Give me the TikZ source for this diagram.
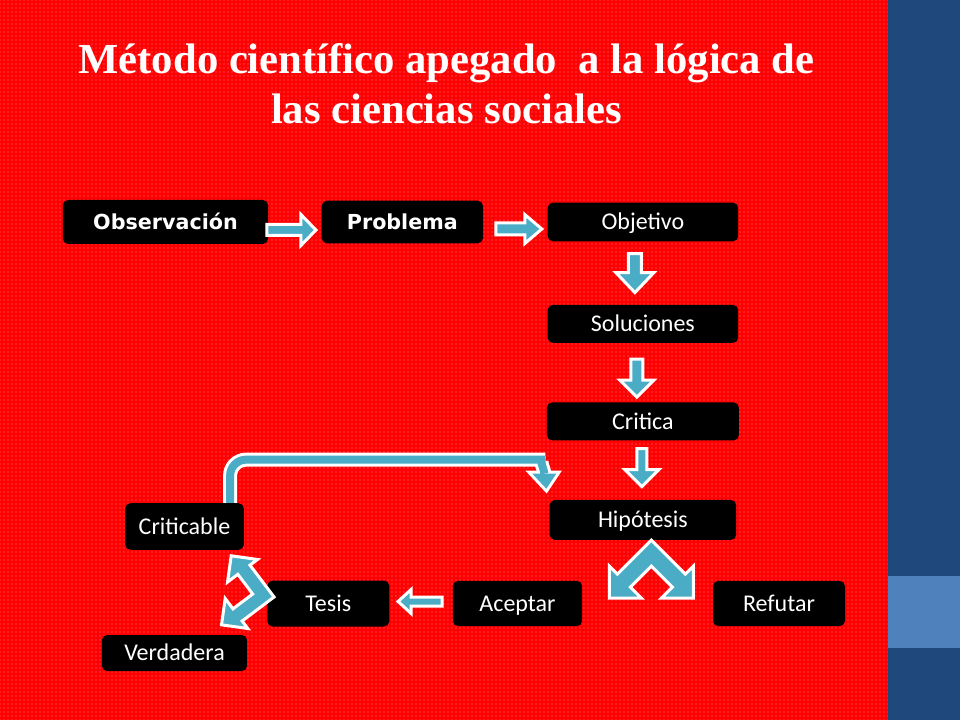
\documentclass[tikz,border=0pt]{standalone}
\usepackage{fontspec}
\setmainfont{Carlito}
\newfontfamily\titlefont{Liberation Serif}
\newfontfamily\verdfont{DejaVu Sans}
\usetikzlibrary{positioning,calc,patterns}

\definecolor{slidered}{HTML}{FF0000}
\definecolor{dotpink}{HTML}{FF7A96}
\definecolor{bardark}{HTML}{1F497D}
\definecolor{barlight}{HTML}{4F81BD}
\definecolor{arrowblue}{HTML}{4BACC6}

\begin{document}
\begin{tikzpicture}[
    x=0.75pt, y=-0.75pt,
    box/.style={rectangle, rounded corners=4pt, fill=black, text=white, inner sep=2pt, text height=11.6pt, text depth=0pt, font=\fontsize{18}{20}\selectfont},
    keybox/.style={box, text height=11.2pt, font=\verdfont\bfseries\fontsize{15.5}{18}\selectfont},
    headline/.style={text=white, align=center, font=\titlefont\bfseries\fontsize{32}{37.5}\selectfont},
    blk/.style={draw=white, line width=2.25pt, fill=arrowblue, line join=miter},
    pics/barrow/.style args={#1/#2/#3/#4}{code={
        \draw[blk] ({-#1/2},{-#3/2}) -- ({#1/2-#4},{-#3/2}) -- ({#1/2-#4},{-#2/2}) -- ({#1/2},0)
            -- ({#1/2-#4},{#2/2}) -- ({#1/2-#4},{#3/2}) -- ({-#1/2},{#3/2}) -- cycle;
    }},
    pics/splitarrow/.style={code={
        \draw[blk] (0,0) -- (-34,34) -- (-42,26) -- (-42,58) -- (-10,58) -- (-21,47) -- (0,26)
            -- (21,47) -- (10,58) -- (42,58) -- (42,26) -- (34,34) -- cycle;
    }}
    ]

    % Slide background
    \useasboundingbox (0,0) rectangle (960,720);
    \fill[slidered] (0,0) rectangle (888,720);
    \fill[pattern=dots, pattern color=dotpink] (0,0) rectangle (888,720);
    \fill[bardark] (888,0) rectangle (960,720);
    \fill[barlight] (888,576) rectangle (960,648);

    % Title
    \node[headline] (title) at (446.5,84) {Método científico apegado~ a la lógica de\\las ciencias sociales};

    % Row 1
    \node[keybox, minimum width=154pt, minimum height=33pt] (obs) at (165.5,222) {Observación};
    \node[keybox, minimum width=121pt, minimum height=32pt, right=39.75pt of obs] (prob) {Problema};
    \node[box, minimum width=143pt, minimum height=29pt, right=48pt of prob] (obj) {Objetivo};

    % Column down to the hypothesis
    \node[box, minimum width=143pt, minimum height=28.5pt, below=47.25pt of obj] (sol) {Soluciones};
    \node[box, minimum width=144pt, minimum height=28.5pt, below=44.25pt of sol] (crit) {Critica};
    \node[box, minimum width=140pt, minimum height=30pt, below=44.25pt of crit] (hip) {Hipótesis};

    % Bottom row
    \node[box, minimum width=99pt, minimum height=34pt] (refu) at (779,603.5) {Refutar};
    \node[box, minimum width=97pt, minimum height=34pt] (acep) at (517.5,603.5) {Aceptar};
    \node[box, minimum width=91.5pt, minimum height=34.5pt, left=47.25pt of acep] (tesis) {Tesis};
    \node[box, minimum width=89pt, minimum height=35pt] (cb) at (184.5,526.5) {Criticable};
    \node[box, minimum width=109pt, minimum height=27pt] (ver) at (174.5,653) {Verdadera};

    % Block arrows
    \pic at ($(obs.east)!.5!(prob.west)+(-3.5,8)$) {barrow=49/31/11/15};
    \pic at ($(prob.east)!.5!(obj.west)+(3.5,7)$) {barrow=46/29/12/17};
    \pic[rotate=-90] at ($(obj.south)!.5!(sol.north)+(-8,0)$) {barrow=39/38/13/20};
    \pic[rotate=-90] at ($(sol.south)!.5!(crit.north)+(-6,5.5)$) {barrow=38/34/12/17};
    \pic[rotate=-90] at ($(crit.south)!.5!(hip.north)+(-1,-2.5)$) {barrow=38/34/10/17};
    \pic[rotate=180] at ($(tesis.east)!.5!(acep.west)+(-1,-2)$) {barrow=44/24/9/13};

    % Split arrows
    \pic at ($(hip.south)+(8.5,0)$) {splitarrow};
    \pic[rotate=-98, scale=0.83] at ($(tesis.west)+(7,-6.5)$) {splitarrow};

    % Loop back from Criticable to Hipotesis
    \coordinate (lpA) at ($(cb.north east)+(-14,0)$);
    \coordinate (lpB) at ($(hip.north west)+(-20,-40)$);
    \coordinate (lpC) at ($(hip.north west)+(-5,-26)$);
    \draw[white, line width=10.5pt, rounded corners=12pt] (lpA) |- (lpB) to[out=0,in=95] (lpC);
    \filldraw[white, line width=4.5pt, line join=miter] ($(lpC)+(-12,0)$) -- ($(lpC)+(2,15)$) -- ($(lpC)+(12,0)$) -- cycle;
    \draw[arrowblue, line width=6pt, rounded corners=12pt] (lpA) |- (lpB) to[out=0,in=95] (lpC);
    \fill[arrowblue] ($(lpC)+(-12,0)$) -- ($(lpC)+(2,15)$) -- ($(lpC)+(12,0)$) -- cycle;

\end{tikzpicture}
\end{document}
